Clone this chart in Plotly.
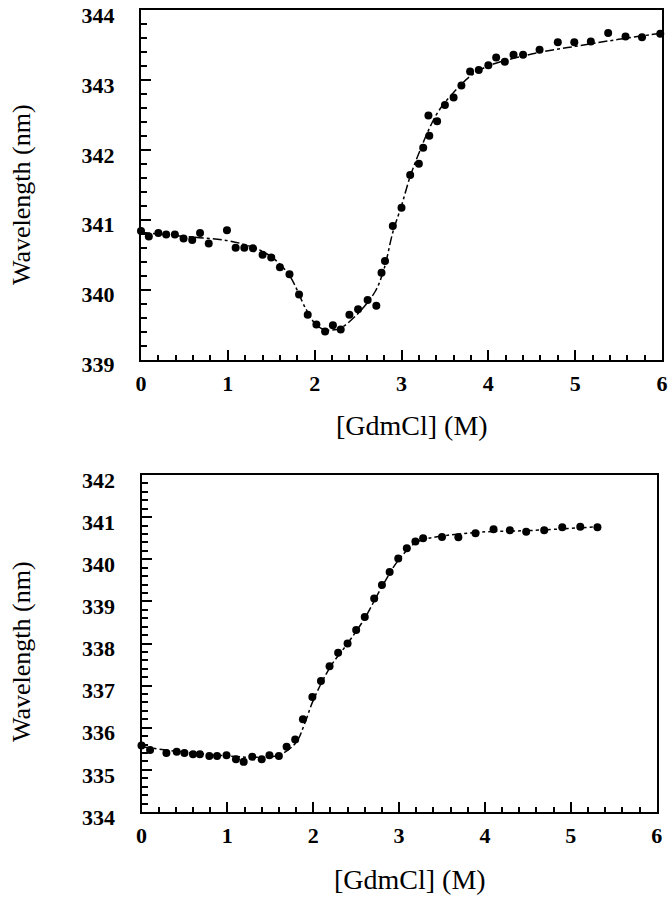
import plotly.graph_objects as go

# ---- Top panel data ----
top_x = [0.0, 0.09, 0.2, 0.29, 0.39, 0.49, 0.59, 0.68, 0.78, 0.99, 1.09, 1.19, 1.29,
         1.40, 1.50, 1.60, 1.71, 1.82, 1.92, 2.02, 2.12, 2.21, 2.30, 2.40, 2.50, 2.61,
         2.71, 2.77, 2.81, 2.90, 3.00, 3.10, 3.20, 3.25, 3.31, 3.32, 3.41, 3.50, 3.60,
         3.69, 3.79, 3.89, 4.00, 4.09, 4.19, 4.29, 4.40, 4.59, 4.80, 4.99, 5.18, 5.38,
         5.58, 5.77, 5.98]
top_y = [340.84, 340.76, 340.81, 340.79, 340.79, 340.73, 340.71, 340.81, 340.66, 340.85,
         340.60, 340.60, 340.59, 340.50, 340.46, 340.32, 340.22, 339.93, 339.64, 339.50,
         339.40, 339.49, 339.43, 339.64, 339.72, 339.85, 339.77, 340.24, 340.41, 340.91,
         341.17, 341.64, 341.80, 342.03, 342.49, 342.20, 342.41, 342.64, 342.75, 342.92,
         343.12, 343.14, 343.21, 343.32, 343.26, 343.36, 343.36, 343.43, 343.54, 343.54,
         343.55, 343.67, 343.62, 343.61, 343.66]
top_fit_x = [0.0, 0.5, 1.0, 1.3, 1.5, 1.7, 1.9, 2.0, 2.1, 2.2, 2.3, 2.5, 2.7, 2.8, 2.9,
             3.0, 3.1, 3.2, 3.3, 3.4, 3.5, 3.6, 3.7, 3.8, 4.0, 4.5, 5.0, 5.5, 6.0]
top_fit_y = [340.82, 340.76, 340.70, 340.60, 340.47, 340.22, 339.72, 339.52, 339.43,
             339.42, 339.45, 339.66, 339.98, 340.30, 340.82, 341.20, 341.62, 341.95,
             342.25, 342.50, 342.68, 342.82, 342.95, 343.06, 343.20, 343.37, 343.48,
             343.58, 343.67]

# ---- Bottom panel data ----
bot_x = [0.0, 0.10, 0.29, 0.41, 0.50, 0.60, 0.68, 0.79, 0.88, 0.99, 1.10, 1.19, 1.29,
         1.40, 1.49, 1.60, 1.69, 1.79, 1.88, 1.99, 2.09, 2.19, 2.29, 2.40, 2.50, 2.60,
         2.71, 2.80, 2.89, 2.99, 3.09, 3.19, 3.28, 3.50, 3.69, 3.89, 4.10, 4.29, 4.48,
         4.69, 4.90, 5.11, 5.31]
bot_y = [335.58, 335.47, 335.40, 335.43, 335.40, 335.37, 335.37, 335.33, 335.33, 335.35,
         335.25, 335.19, 335.31, 335.25, 335.35, 335.33, 335.55, 335.72, 336.20, 336.73,
         337.11, 337.46, 337.78, 338.00, 338.32, 338.63, 339.07, 339.39, 339.70, 340.02,
         340.26, 340.42, 340.50, 340.53, 340.52, 340.62, 340.71, 340.69, 340.65, 340.69,
         340.76, 340.77, 340.76]
bot_fit_x = [0.0, 0.5, 1.0, 1.3, 1.6, 1.8, 1.9, 2.0, 2.2, 2.4, 2.6, 2.8, 3.0, 3.2, 3.4,
             4.0, 4.5, 5.3]
bot_fit_y = [335.55, 335.42, 335.33, 335.30, 335.35, 335.65, 336.10, 336.65, 337.45,
             338.00, 338.60, 339.35, 340.00, 340.40, 340.52, 340.65, 340.68, 340.77]

x_ticks = [0, 1, 2, 3, 4, 5, 6]
top_y_ticks = [339, 340, 341, 342, 343, 344]
bot_y_ticks = [334, 335, 336, 337, 338, 339, 340, 341, 342]

W, H = 668, 900

def px_x(v):
    return v / W

def px_y(v):
    return 1 - v / H

fig = go.Figure()

line_style = dict(color='black', width=1.5, dash='dashdot', shape='spline')
mk = dict(color='black', size=8, symbol='circle')

fig.add_trace(go.Scatter(x=top_fit_x, y=top_fit_y, mode='lines', line=line_style,
                         xaxis='x', yaxis='y', cliponaxis=False, showlegend=False))
fig.add_trace(go.Scatter(x=top_x, y=top_y, mode='markers', marker=mk,
                         xaxis='x', yaxis='y', cliponaxis=False, showlegend=False))
fig.add_trace(go.Scatter(x=bot_fit_x, y=bot_fit_y, mode='lines', line=line_style,
                         xaxis='x2', yaxis='y2', cliponaxis=False, showlegend=False))
fig.add_trace(go.Scatter(x=bot_x, y=bot_y, mode='markers', marker=mk,
                         xaxis='x2', yaxis='y2', cliponaxis=False, showlegend=False))

tickfont = dict(family='Liberation Serif, Times New Roman, serif', size=22, color='black')
common = dict(showline=True, linewidth=2, linecolor='black', mirror=True,
              showgrid=False, zeroline=False, ticks='inside', ticklen=10,
              tickwidth=2, tickcolor='black', tickfont=tickfont, automargin=False,
              ticklabeloverflow='allow')

def xax(domain, anchor):
    return dict(domain=domain, anchor=anchor, range=[0, 6], tickmode='array',
                tickvals=x_ticks, ticktext=['<b>%d</b>' % t for t in x_ticks],
                ticklabelstandoff=3,
                minor=dict(ticks='inside', ticklen=5, tickwidth=1.5, tickcolor='black',
                           dtick=0.2, tick0=0, showgrid=False), **common)

def yax(domain, anchor, rng, tv):
    return dict(domain=domain, anchor=anchor, range=rng, tickmode='array',
                tickvals=tv, ticktext=['<b>%d</b>' % t for t in tv],
                ticklabelstandoff=20, ticklabelshift=5,
                minor=dict(ticks='inside', ticklen=6, tickwidth=1.5, tickcolor='black',
                           dtick=0.2, tick0=rng[0], showgrid=False), **common)

fig.update_layout(
    width=W, height=H,
    margin=dict(l=0, r=0, t=0, b=0),
    paper_bgcolor='white', plot_bgcolor='white',
    xaxis=xax([px_x(141), px_x(662)], 'y'),
    yaxis=yax([px_y(359.5), px_y(10)], 'x', [339, 344], top_y_ticks),
    xaxis2=xax([px_x(141.5), px_x(656.7)], 'y2'),
    yaxis2=yax([px_y(812), px_y(475)], 'x2', [334, 342], bot_y_ticks),
)

xt_font = dict(family='Liberation Serif, Times New Roman, serif', size=28, color='black')
yt_font = dict(family='Liberation Serif, Times New Roman, serif', size=26, color='black')
ann = [
    dict(text='[GdmCl] (M)', x=px_x(412), y=px_y(425), font=xt_font),
    dict(text='[GdmCl] (M)', x=px_x(410), y=px_y(879), font=xt_font),
    dict(text='Wavelength (nm)', x=px_x(21), y=px_y(195), textangle=-90, font=yt_font),
    dict(text='Wavelength (nm)', x=px_x(21), y=px_y(652), textangle=-90, font=yt_font),
]
for a in ann:
    fig.add_annotation(xref='paper', yref='paper', showarrow=False,
                       xanchor='center', yanchor='middle', **a)

fig.write_html('out.html', config={'displayModeBar': False},
               post_script="document.body.style.margin='0';document.body.style.padding='0';")
